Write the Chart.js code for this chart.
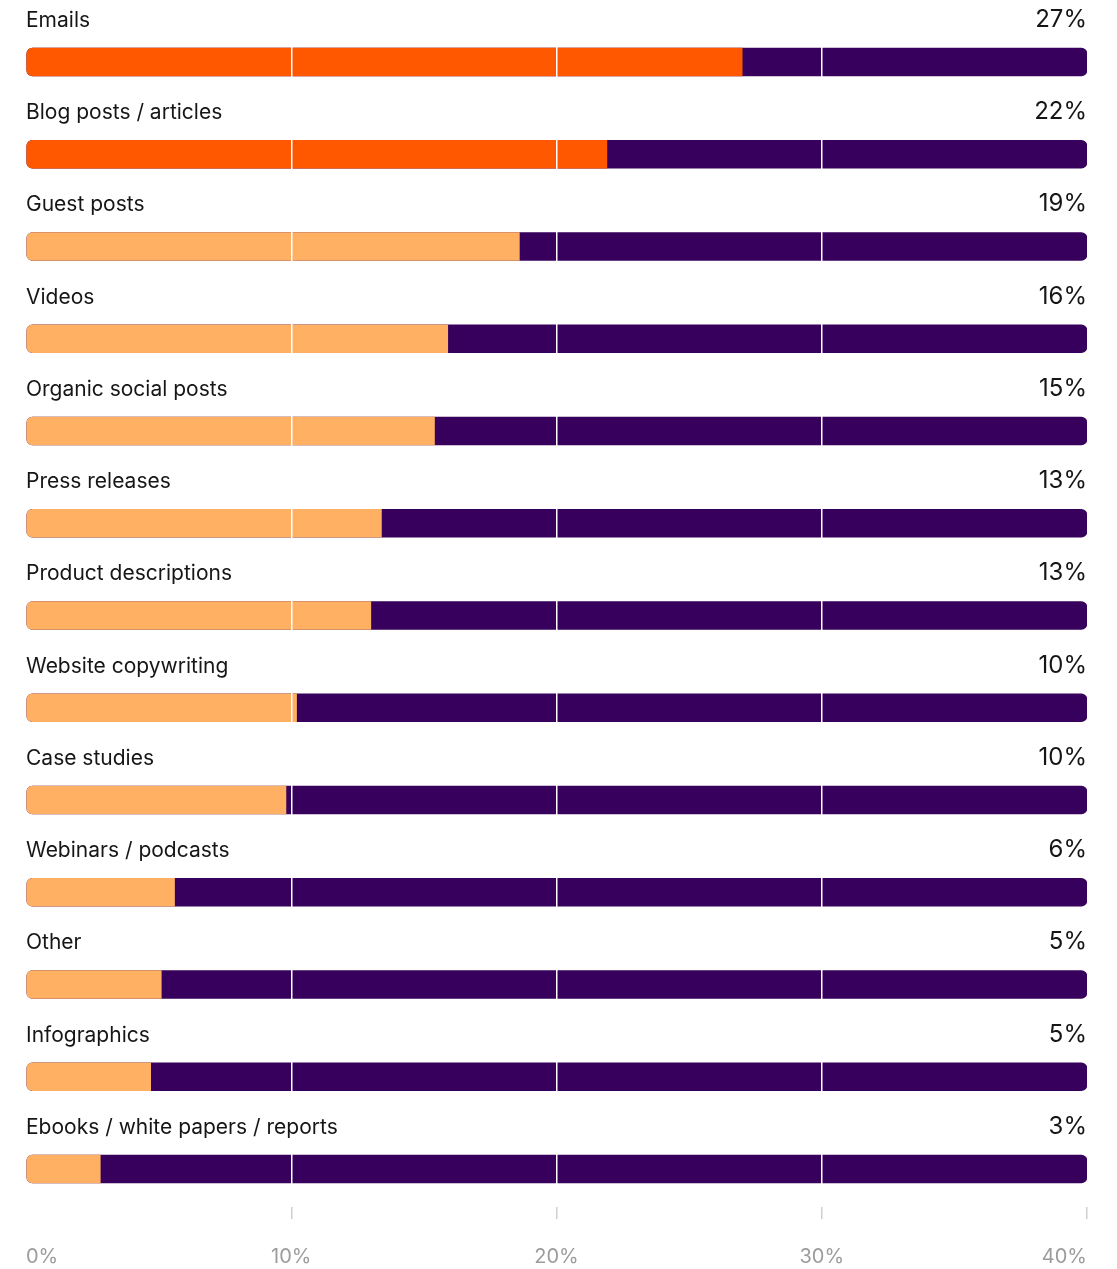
<!DOCTYPE html>
<html lang="en">
<head>
  <meta charset="UTF-8">
  <title>Content types</title>
  <script src="https://cdn.jsdelivr.net/npm/chart.js"></script>
  <style>
    html, body { margin: 0; padding: 0; background: #fff; }
    #wrap { width: 1117px; height: 1269px; position: relative; }
  </style>
</head>
<body>
  <div id="wrap"><canvas id="chart"></canvas></div>
  <script>
  // content types and their share (%)
  const categories = [
    'Emails',
    'Blog posts / articles',
    'Guest posts',
    'Videos',
    'Organic social posts',
    'Press releases',
    'Product descriptions',
    'Website copywriting',
    'Case studies',
    'Webinars / podcasts',
    'Other',
    'Infographics',
    'Ebooks / white papers / reports'
  ];
  const shares = [27.0, 21.9, 18.6, 15.9, 15.4, 13.4, 13.0, 10.2, 9.8, 5.6, 5.1, 4.7, 2.8];
  const axisMax = 40;
  const tickStep = 10;
  const highlighted = 2; // top rows shown in the strong orange

  const ORANGE = '#ff5800';
  const PEACH = '#ffb063';
  const PURPLE = '#36005c';
  const TEXT = '#161616';

  // category name above each bar, rounded value at the right end
  // (drawn last so the white grid lines don't cut through the text)
  const rowLabels = {
    id: 'rowLabels',
    afterDraw(chart) {
      const { ctx, chartArea, scales: { y } } = chart;
      ctx.save();
      ctx.fillStyle = TEXT;
      ctx.textBaseline = 'alphabetic';
      categories.forEach((name, i) => {
        const base = y.getPixelForValue(i) - 35;
        ctx.font = '21px Inter';
        ctx.textAlign = 'left';
        ctx.fillText(name, chartArea.left, base);
        ctx.font = '24px Inter';
        ctx.textAlign = 'right';
        ctx.fillText(Math.round(shares[i]) + '%', chartArea.right, base);
      });
      ctx.restore();
    }
  };

  new Chart(document.getElementById('chart'), {
    type: 'bar',
    data: {
      datasets: [
        {
          label: 'share',
          data: shares.map((v, i) => ({ x: v, y: i })),
          backgroundColor: shares.map((v, i) => i < highlighted ? ORANGE : PEACH),
          borderRadius: { topLeft: 6, bottomLeft: 6, topRight: 0, bottomRight: 0 },
          borderSkipped: false,
          barThickness: 28,
          grouped: false,
          order: 0
        },
        {
          label: 'track',
          data: categories.map((c, i) => ({ x: axisMax, y: i })),
          backgroundColor: PURPLE,
          borderRadius: 6,
          borderSkipped: false,
          barThickness: 28,
          grouped: false,
          order: 1
        }
      ]
    },
    options: {
      indexAxis: 'y',
      responsive: true,
      maintainAspectRatio: false,
      animation: false,
      events: [],
      layout: { padding: { left: 25, right: 30, top: 0, bottom: 0 } },
      plugins: { legend: { display: false }, tooltip: { enabled: false } },
      scales: {
        y: {
          type: 'linear',
          reverse: true,
          offset: false,
          min: -0.672,
          max: 12.412,
          display: false,
          grid: { offset: false }
        },
        x: {
          type: 'linear',
          position: 'bottom',
          min: 0,
          max: axisMax,
          afterFit: s => { s.height = 62; },
          border: { display: false },
          grid: {
            z: 1,
            color: c => (c.tick && c.tick.value > 0 && c.tick.value < axisMax) ? '#ffffff' : 'rgba(0,0,0,0)',
            tickColor: c => (c.tick && c.tick.value > 0) ? '#cfcfcf' : 'rgba(0,0,0,0)',
            lineWidth: 1.5,
            tickLength: 12,
            drawTicks: true
          },
          ticks: {
            stepSize: tickStep,
            align: 'inner',
            padding: 26,
            color: '#9c9c9c',
            font: { family: 'Inter', size: 20 },
            callback: v => v + '%'
          }
        }
      }
    },
    plugins: [rowLabels]
  });
  </script>
</body>
</html>
